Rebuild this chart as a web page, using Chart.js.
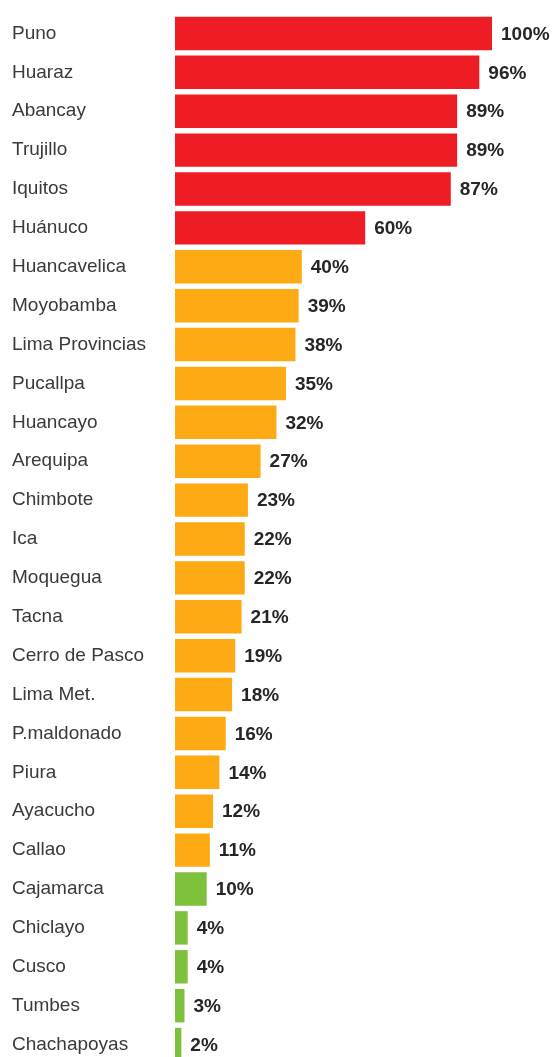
<!DOCTYPE html>
<html>
<head>
<meta charset="utf-8">
<script src="https://cdn.jsdelivr.net/npm/chart.js@4"></script>
<style>
  html, body { margin: 0; padding: 0; background: #fff; overflow: hidden; }
  #wrap { position: relative; width: 555px; height: 1064px; }
</style>
</head>
<body>
<div id="wrap"><canvas id="c"></canvas></div>
<script>
// Cities, ordered from highest to lowest share
const cities = [
  'Puno', 'Huaraz', 'Abancay', 'Trujillo', 'Iquitos', 'Huánuco',
  'Huancavelica', 'Moyobamba', 'Lima Provincias', 'Pucallpa', 'Huancayo',
  'Arequipa', 'Chimbote', 'Ica', 'Moquegua', 'Tacna', 'Cerro de Pasco',
  'Lima Met.', 'P.maldonado', 'Piura', 'Ayacucho', 'Callao',
  'Cajamarca', 'Chiclayo', 'Cusco', 'Tumbes', 'Chachapoyas'
];

// Percentage per city
const percentages = [
  100, 96, 89, 89, 87, 60,
  40, 39, 38, 35, 32,
  27, 23, 22, 22, 21, 19,
  18, 16, 14, 12, 11,
  10, 4, 4, 3, 2
];

// Colour band per city: high / medium / low
const bands = [
  'high', 'high', 'high', 'high', 'high', 'high',
  'mid', 'mid', 'mid', 'mid', 'mid',
  'mid', 'mid', 'mid', 'mid', 'mid', 'mid',
  'mid', 'mid', 'mid', 'mid', 'mid',
  'low', 'low', 'low', 'low', 'low'
];

const bandColors = { high: '#ee1c25', mid: '#fdaa14', low: '#7dc13c' };

// Writes the percentage just past the end of each bar
const valueLabels = {
  id: 'valueLabels',
  afterDatasetsDraw(chart) {
    const ctx = chart.ctx;
    const meta = chart.getDatasetMeta(0);
    ctx.save();
    ctx.font = 'bold 19px "Liberation Sans", Arial, sans-serif';
    ctx.fillStyle = '#262626';
    ctx.textAlign = 'left';
    ctx.textBaseline = 'middle';
    meta.data.forEach((bar, i) => {
      ctx.fillText(percentages[i] + '%', bar.x + 9, bar.y + 1);
    });
    ctx.restore();
  }
};

new Chart(document.getElementById('c'), {
  type: 'bar',
  data: {
    labels: cities,
    datasets: [{
      data: percentages,
      backgroundColor: bands.map(b => bandColors[b]),
      borderWidth: 0,
      categoryPercentage: 1,
      barPercentage: 0.86
    }]
  },
  options: {
    indexAxis: 'y',
    responsive: true,
    maintainAspectRatio: false,
    animation: false,
    layout: { padding: { left: 12, right: 63, top: 14, bottom: 0 } },
    plugins: {
      legend: { display: false },
      tooltip: { enabled: false }
    },
    scales: {
      x: {
        min: 0,
        max: 100,
        display: false
      },
      y: {
        grid: { display: false },
        border: { display: false },
        afterFit(scale) {
          // fixed label column; the last row may run past the bottom edge
          scale.width = 163;
          scale.paddingTop = 0;
          scale.paddingBottom = 0;
        },
        ticks: {
          crossAlign: 'far',
          color: '#3a3a3a',
          font: { family: '"Liberation Sans", Arial, sans-serif', size: 19 }
        }
      }
    }
  },
  plugins: [valueLabels]
});
</script>
</body>
</html>
